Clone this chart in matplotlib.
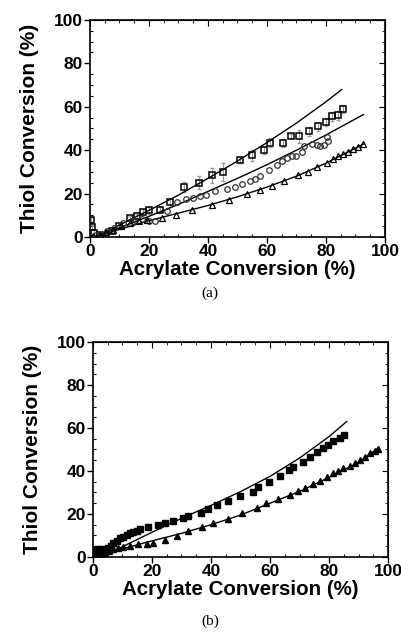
import numpy as np
import matplotlib.pyplot as plt
from matplotlib.ticker import MultipleLocator

plt.rcParams['font.family'] = ['Liberation Sans', 'DejaVu Sans']

# ---- panel (a) data ----
a_sq_x = [0.5, 0.8, 1.2, 3.4, 7.3, 10, 13.6, 15.8, 18, 20, 23.7, 27, 32, 37, 41.2, 45.2,
          50.8, 54.8, 59, 61, 65.5, 68, 71, 74.4, 77.3, 79.9, 82, 84, 85.7]
a_sq_y = [8, 4.5, 2, 1, 2.6, 5.2, 8.8, 9.5, 11.4, 12.3, 12.6, 16, 23, 25, 28.4, 30,
          35.5, 37.6, 40, 43.5, 43.3, 46.5, 46.5, 48.7, 51, 53, 55.6, 56, 59]
a_sq_err = [1, 1, 1, 1, 1, 1, 1, 1, 1.5, 1.5, 1.5, 2, 2.5, 3, 3.5, 4,
            1.5, 2.5, 2, 2, 2, 1, 3, 2, 2, 2, 2, 2, 2]

a_ci_x = [2, 3.5, 5.6, 8, 11.3, 14.7, 17.5, 20, 22, 26, 29.4, 32.5, 35, 37.3, 39.3, 42.4,
          46.3, 49, 51.6, 54.2, 55.9, 57.6, 60.8, 63.3, 65, 66.7, 68.4, 70, 71.8, 72.5,
          75.1, 76.8, 78, 79.4, 80.5, 80.8]
a_ci_y = [1, 1.5, 2.6, 4, 6.5, 7.5, 8.3, 7.2, 7.2, 12.1, 16, 17.7, 17.8, 18.7, 19.5, 21,
          22.3, 23.2, 24.4, 25.7, 26.7, 28.3, 30.7, 33.3, 35.2, 36.3, 37.5, 37.5, 39, 41.8,
          43, 42.2, 41.8, 42.2, 46, 44]

a_tr_x = [1, 3.4, 5.5, 7.9, 10.5, 13.6, 16.5, 19.2, 24.3, 29, 34.7, 41.4, 47.1, 53.1, 57.6,
          61.6, 65.9, 70.6, 74, 77, 80.2, 82.5, 84.2, 85.9, 87.6, 89.3, 91, 92.7]
a_tr_y = [0.5, 1, 2.2, 3.4, 5, 6.5, 7.3, 8, 8.8, 10.3, 12.3, 14.9, 16.9, 20, 21.5,
          23.7, 25.7, 28.4, 29.8, 32.3, 34.3, 36, 37.2, 38.4, 39.3, 40.4, 41.5, 43]

a_fit1_x = [2, 10, 20, 30, 40, 50, 60, 70, 80, 85.3]
a_fit1_y = [0, 5.5, 12.3, 19.3, 27, 35, 43.5, 52.5, 62.3, 67.9]
a_fit2_x = [2, 10, 20, 30, 40, 50, 60, 70, 80, 92.7]
a_fit2_y = [0, 4.2, 9.5, 15, 21, 27, 33.3, 40, 47, 56.4]
a_fit3_x = [2, 10, 20, 30, 40, 50, 60, 70, 80, 93]
a_fit3_y = [0, 3.5, 7.5, 11, 14.5, 18.5, 23, 28, 34, 43]

# ---- panel (b) data ----
b_sq_x = [0.3, 0.7, 1.2, 1.8, 2.5, 3.2, 4, 5, 6, 6.9, 8, 9.2, 10.3, 11.4, 12.5, 13.7, 15,
          15.9, 18.8, 22.1, 24.4, 27.2, 30.6, 32.3, 36.5, 38.9, 41.9, 45.9, 49.8, 54.1,
          56, 59.8, 63.4, 66.5, 67.9, 71.1, 73.6, 76, 78.1, 79.7, 81.2, 83.7, 85.2]
b_sq_y = [2, 3, 3.3, 3.5, 3.3, 3.6, 3.3, 4, 5, 6.4, 7.5, 8.7, 9.5, 10.2, 11, 11.8, 12.3,
          12.9, 13.8, 14.9, 15.7, 16.9, 18.3, 19.2, 20.6, 22.2, 24.2, 26, 28.5, 30.4,
          32.4, 34.7, 37.7, 40.5, 42, 44.3, 46.5, 49, 50.7, 52.1, 54, 55.2, 56.7]

b_tr_x = [0.5, 1.2, 2, 3, 4, 5.5, 6.9, 8.5, 10.3, 12.5, 15.4, 18.2, 20.5, 24.4, 28.4, 32.3,
          36.8, 40.8, 45.9, 50.6, 55.5, 58.8, 62.8, 66.8, 69.6, 71.9, 74.7, 76.9, 79.2,
          81.5, 83.2, 84.9, 87.1, 88.8, 90.5, 92.2, 93.9, 95.6, 96.7]
b_tr_y = [0.5, 1, 1.2, 1.5, 2, 2.8, 3.6, 4.2, 4.8, 5.3, 5.9, 6.2, 6.7, 7.9, 9.8, 11.9,
          14, 15.8, 17.7, 20.3, 22.6, 25, 27, 28.8, 30.7, 32.2, 33.8, 35.5, 37.4,
          39.2, 40.2, 41.2, 42.5, 43.6, 45.1, 46.7, 48.2, 49.3, 50.2]

b_fit1_x = [3, 10, 20, 30, 40, 50, 60, 70, 80, 86]
b_fit1_y = [0, 4.8, 11.5, 18, 24, 30.4, 37.5, 46, 56, 63]
b_fit2_x = [3, 10, 20, 30, 40, 50, 60, 70, 80, 90, 97]
b_fit2_y = [0, 3.8, 7.5, 11, 15, 19.5, 25, 30.5, 37, 44, 51]

ticks = [0, 20, 40, 60, 80, 100]


def style_axes(ax):
    ax.set_xlim(0, 100)
    ax.set_ylim(0, 100)
    ax.set_xticks(ticks)
    ax.set_yticks(ticks)
    ax.xaxis.set_minor_locator(MultipleLocator(5))
    ax.yaxis.set_minor_locator(MultipleLocator(5))
    ax.tick_params(which='major', direction='out', length=4, width=1,
                   labelsize=12.5, pad=1)
    ax.tick_params(which='minor', direction='in', length=2.5, width=0.8)
    for lab in ax.get_xticklabels() + ax.get_yticklabels():
        lab.set_fontweight('bold')
    for s in ax.spines.values():
        s.set_linewidth(1.2)
    # inward ticks on top and right
    top = ax.secondary_xaxis('top')
    top.set_xticks(ticks)
    top.xaxis.set_minor_locator(MultipleLocator(5))
    top.tick_params(which='major', direction='in', length=4, labeltop=False)
    top.tick_params(which='minor', direction='in', length=2.5)
    right = ax.secondary_yaxis('right')
    right.set_yticks(ticks)
    right.yaxis.set_minor_locator(MultipleLocator(5))
    right.tick_params(which='major', direction='in', length=4, labelright=False)
    right.tick_params(which='minor', direction='in', length=2.5)
    ax.set_ylabel('Thiol Conversion (%)', fontsize=15, fontweight='bold', labelpad=11)
    ax.set_xlabel('Acrylate Conversion (%)', fontsize=14.8, fontweight='bold', labelpad=1)


fig = plt.figure(figsize=(4.01, 6.37), dpi=100)
ax1 = fig.add_axes([0.2244, 0.628, 0.7357, 0.3407])
ax2 = fig.add_axes([0.2319, 0.1256, 0.7357, 0.3375])

# panel (a)
ax1.errorbar(a_sq_x, a_sq_y, yerr=a_sq_err, fmt='none', ecolor='#999999',
             elinewidth=0.8, capsize=1.5, zorder=2)
ax1.plot(a_fit1_x, a_fit1_y, color='black', lw=1, zorder=3)
ax1.plot(a_fit2_x, a_fit2_y, color='black', lw=1, zorder=3)
ax1.plot(a_fit3_x, a_fit3_y, color='black', lw=1, zorder=3)
ax1.plot(a_sq_x, a_sq_y, 's', ms=5, mfc='none', mec='black', mew=1.1, zorder=4)
ax1.plot(a_ci_x, a_ci_y, 'o', ms=4, mfc='none', mec='#333333', mew=0.9, zorder=4)
ax1.plot(a_tr_x, a_tr_y, '^', ms=4.3, mfc='none', mec='black', mew=0.9, zorder=4)
style_axes(ax1)

# panel (b)
ax2.plot(b_fit1_x, b_fit1_y, color='black', lw=1, zorder=3)
ax2.plot(b_fit2_x, b_fit2_y, color='black', lw=1, zorder=3)
ax2.plot(b_sq_x, b_sq_y, 's', ms=4, color='black', zorder=4)
ax2.plot(b_tr_x, b_tr_y, '^', ms=4.5, color='black', zorder=4)
style_axes(ax2)

fig.text(0.524, 1 - 293 / 637, '(a)', family='Liberation Serif', fontsize=11,
         ha='center', va='center')
fig.text(0.524, 1 - 621 / 637, '(b)', family='Liberation Serif', fontsize=11,
         ha='center', va='center')

fig.savefig('out.png', dpi=100)
